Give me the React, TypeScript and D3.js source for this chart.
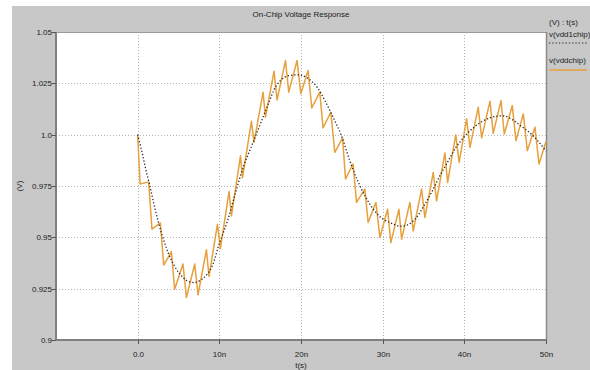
import React, { useEffect, useRef } from 'react';
import * as d3 from 'd3';

// time axis in ns
const xTicks = [0, 10, 20, 30, 40, 50];
const xTickLabels = ['0.0', '10n', '20n', '30n', '40n', '50n'];
const yTicks = [0.9, 0.925, 0.95, 0.975, 1.0, 1.025, 1.05];
const yTickLabels = ['0.9', '0.925', '0.95', '0.975', '1.0', '1.025', '1.05'];

// v(vdd1chip) - smooth dotted response
const vdd1Time = [0, 0.5, 1, 1.5, 2, 2.5, 3, 3.5, 4, 5, 6, 7, 8, 9, 10, 11, 12, 13, 14, 15, 16, 17, 18, 19, 20, 21, 22, 23, 24, 25, 26, 27, 28, 29, 30, 31, 32, 33, 34, 35, 36, 37, 38, 39, 40, 41, 42, 43, 44, 45, 46, 47, 48, 49, 50];
const vdd1Volt = [1.0, 0.992, 0.983, 0.975, 0.966, 0.958, 0.951, 0.945, 0.94, 0.933, 0.929, 0.928, 0.93, 0.935, 0.947, 0.958, 0.972, 0.985, 0.995, 1.005, 1.015, 1.024, 1.028, 1.029, 1.029, 1.027, 1.023, 1.016, 1.008, 0.999, 0.987, 0.977, 0.969, 0.963, 0.959, 0.957, 0.9555, 0.956, 0.959, 0.965, 0.972, 0.98, 0.987, 0.994, 0.999, 1.003, 1.006, 1.008, 1.009, 1.009, 1.007, 1.004, 1.001, 0.997, 0.992];

// v(vddchip) - ripple waveform, peak / trough vertices
const vddTime = [0, 0.3, 1.35, 1.75, 2.78, 3.19, 4.13, 4.53, 5.55, 5.97, 6.99, 7.39, 8.42, 8.74, 9.77, 10.13, 11.19, 11.48, 12.59, 12.83, 13.93, 14.25, 15.36, 15.65, 16.7, 17.07, 18.1, 18.5, 19.52, 19.98, 20.87, 21.32, 22.3, 22.7, 23.65, 24.14, 25.09, 25.45, 26.38, 26.8, 27.82, 28.22, 29.17, 29.66, 30.6, 31.0, 31.99, 32.32, 33.33, 33.74, 34.77, 35.17, 36.19, 36.6, 37.62, 37.95, 38.95, 39.36, 40.28, 40.69, 41.7, 42.12, 43.14, 43.54, 44.49, 44.89, 45.87, 46.32, 47.22, 47.71, 48.65, 49.14, 50];
const vddVolt = [1.0, 0.976, 0.977, 0.954, 0.957, 0.9365, 0.943, 0.9247, 0.937, 0.9207, 0.937, 0.922, 0.944, 0.931, 0.9564, 0.9445, 0.9723, 0.9605, 0.9897, 0.979, 1.0065, 0.9962, 1.0207, 1.0085, 1.0309, 1.0169, 1.0361, 1.0207, 1.0361, 1.0199, 1.0313, 1.013, 1.0207, 1.0033, 1.0109, 0.9914, 0.9984, 0.9784, 0.9857, 0.967, 0.9735, 0.9572, 0.967, 0.9499, 0.9637, 0.9474, 0.9637, 0.9491, 0.967, 0.9531, 0.9735, 0.9596, 0.9816, 0.9678, 0.9911, 0.9767, 1.0, 0.9865, 1.0077, 0.9938, 1.0133, 0.9984, 1.0163, 1.0006, 1.0166, 1.0003, 1.0142, 0.9971, 1.0101, 0.9922, 1.0036, 0.9857, 0.9967];

const W = 590;
const H = 370;
const ORANGE = '#e6a03c';

export default function App() {
  const svgRef = useRef<SVGSVGElement>(null);

  useEffect(() => {
    const svg = d3.select(svgRef.current);
    svg.selectAll('*').remove();

    const left = 56, right = 546, top = 32, bottom = 340;
    const x = d3.scaleLinear().domain([-10, 50]).range([left, right]);
    const y = d3.scaleLinear().domain([0.9, 1.05]).range([bottom, top]);
    const font = 'Arial, "Liberation Sans", sans-serif';

    svg.append('rect').attr('width', W).attr('height', H).attr('fill', '#ffffff');
    svg.append('rect').attr('x', 12).attr('y', 6).attr('width', W - 12).attr('height', H - 6).attr('fill', '#c8c8c8');
    svg.append('rect').attr('x', left).attr('y', top).attr('width', right - left).attr('height', bottom - top).attr('fill', '#ffffff');

    // grid
    const grid = svg.append('g').attr('stroke', '#b4b4b4').attr('stroke-width', 1).attr('stroke-dasharray', '1,2');
    yTicks.slice(1, -1).forEach((v) => {
      grid.append('line').attr('x1', left).attr('x2', right).attr('y1', Math.round(y(v)) + 0.5).attr('y2', Math.round(y(v)) + 0.5);
    });
    xTicks.slice(0, -1).forEach((t) => {
      grid.append('line').attr('x1', Math.round(x(t)) + 0.5).attr('x2', Math.round(x(t)) + 0.5).attr('y1', top).attr('y2', bottom);
    });

    // frame
    svg.append('line').attr('x1', left).attr('x2', right).attr('y1', top + 0.5).attr('y2', top + 0.5).attr('stroke', '#9a9a9a');
    svg.append('line').attr('x1', right + 0.5).attr('x2', right + 0.5).attr('y1', top).attr('y2', bottom).attr('stroke', '#8a8a8a').attr('stroke-width', 1.5);
    svg.append('line').attr('x1', left).attr('x2', left).attr('y1', top).attr('y2', bottom + 1).attr('stroke', '#808080').attr('stroke-width', 2);
    svg.append('line').attr('x1', left).attr('x2', right + 1).attr('y1', bottom).attr('y2', bottom).attr('stroke', '#808080').attr('stroke-width', 2);

    // y ticks
    const yAxis = svg.append('g');
    yTicks.forEach((v, i) => {
      const yy = Math.round(y(v)) + 0.5;
      yAxis.append('line').attr('x1', left - 4).attr('x2', left).attr('y1', yy).attr('y2', yy).attr('stroke', '#555');
      yAxis.append('text').attr('x', left - 4).attr('y', yy).attr('dy', '0.35em').attr('text-anchor', 'end')
        .attr('font-family', font).attr('font-size', 8).attr('fill', '#222').text(yTickLabels[i]);
    });

    // x ticks
    const xAxis = svg.append('g');
    xTicks.forEach((t, i) => {
      const xx = Math.round(x(t)) + 0.5;
      xAxis.append('line').attr('x1', xx).attr('x2', xx).attr('y1', bottom).attr('y2', bottom + 4).attr('stroke', '#555');
      xAxis.append('text').attr('x', xx).attr('y', 357).attr('text-anchor', 'middle')
        .attr('font-family', font).attr('font-size', 8).attr('fill', '#222').text(xTickLabels[i]);
    });

    // titles
    svg.append('text').attr('x', 301).attr('y', 17).attr('text-anchor', 'middle').attr('font-family', font)
      .attr('font-size', 8).attr('fill', '#222').text('On-Chip Voltage Response');
    svg.append('text').attr('x', 301).attr('y', 368).attr('text-anchor', 'middle').attr('font-family', font)
      .attr('font-size', 8).attr('fill', '#222').text('t(s)');
    svg.append('text').attr('transform', 'translate(22,186) rotate(-90)').attr('text-anchor', 'middle').attr('font-family', font)
      .attr('font-size', 8).attr('fill', '#222').text('(V)');

    // curves
    const line = d3.line<[number, number]>().x((d) => x(d[0])).y((d) => y(d[1]));
    const plot = svg.append('g');
    plot.append('path').datum(vddTime.map((t, i) => [t, vddVolt[i]] as [number, number]))
      .attr('d', line).attr('fill', 'none').attr('stroke', ORANGE).attr('stroke-width', 1.5).attr('stroke-linejoin', 'round');
    plot.append('path').datum(vdd1Time.map((t, i) => [t, vdd1Volt[i]] as [number, number]))
      .attr('d', line.curve(d3.curveCatmullRom)).attr('fill', 'none').attr('stroke', '#2a2a2a').attr('stroke-width', 1.3)
      .attr('stroke-dasharray', '1.3,2');

    // legend
    const lg = svg.append('g').attr('font-family', font).attr('font-size', 8).attr('fill', '#222');
    lg.append('text').attr('x', 549).attr('y', 25).text('(V) : t(s)');
    lg.append('text').attr('x', 549).attr('y', 37).text('v(vdd1chip)');
    lg.append('line').attr('x1', 549).attr('x2', 587).attr('y1', 43).attr('y2', 43).attr('stroke', '#2a2a2a')
      .attr('stroke-width', 1.2).attr('stroke-dasharray', '1.3,2');
    lg.append('text').attr('x', 549).attr('y', 63).text('v(vddchip)');
    lg.append('line').attr('x1', 549).attr('x2', 587).attr('y1', 70).attr('y2', 70).attr('stroke', ORANGE).attr('stroke-width', 1.5);
  }, []);

  return (
    <svg ref={svgRef} width={W} height={H} style={{ position: 'absolute', left: 0, top: 0, display: 'block' }} />
  );
}
